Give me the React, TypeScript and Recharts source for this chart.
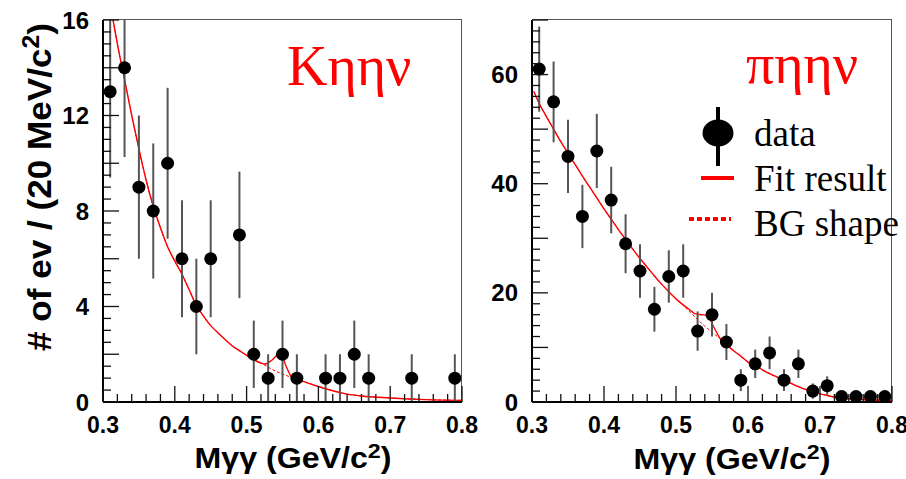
import React from 'react';
import { ComposedChart, Scatter, Line, XAxis, YAxis, ErrorBar, Legend } from 'recharts';

// ---- data: K eta eta nu panel ----
const kX = [0.31, 0.33, 0.35, 0.37, 0.39, 0.41, 0.43, 0.45, 0.49, 0.51, 0.53, 0.55, 0.57, 0.61, 0.63, 0.65, 0.67, 0.73, 0.79];
const kCounts = [13, 14, 9, 8, 10, 6, 4, 6, 7, 2, 1, 2, 1, 1, 1, 2, 1, 1, 1];
const kErr = [3.6, 3.74, 3.0, 2.83, 3.16, 2.45, 2.0, 2.45, 2.65, 1.41, 1.0, 1.41, 1.0, 1.0, 1.0, 1.41, 1.0, 1.0, 1.0];

const kFitX = [0.314, 0.32, 0.33, 0.34, 0.35, 0.36, 0.37, 0.38, 0.39, 0.40, 0.41, 0.42, 0.43, 0.44, 0.45, 0.46, 0.47, 0.48, 0.49, 0.50, 0.51, 0.52, 0.525, 0.535, 0.547, 0.555, 0.562, 0.57, 0.58, 0.60, 0.62, 0.64, 0.66, 0.70, 0.75, 0.80];
const kFitY = [16, 15.0, 13.5, 12.0, 10.6, 9.3, 8.2, 7.3, 6.5, 5.9, 5.35, 4.7, 4.05, 3.6, 3.2, 2.9, 2.62, 2.35, 2.15, 1.95, 1.77, 1.63, 1.59, 1.75, 2.05, 1.5, 1.08, 0.95, 0.85, 0.65, 0.47, 0.33, 0.25, 0.17, 0.1, 0.07];
const kBgX = [0.314, 0.32, 0.33, 0.34, 0.35, 0.36, 0.37, 0.38, 0.39, 0.40, 0.41, 0.42, 0.43, 0.44, 0.45, 0.46, 0.47, 0.48, 0.49, 0.50, 0.51, 0.52, 0.53, 0.54, 0.55, 0.56, 0.57, 0.58, 0.60, 0.62, 0.64, 0.66, 0.70, 0.75, 0.80];
const kBgY = [16, 15.0, 13.5, 12.0, 10.6, 9.3, 8.2, 7.3, 6.5, 5.9, 5.35, 4.7, 4.05, 3.6, 3.2, 2.9, 2.62, 2.35, 2.15, 1.95, 1.78, 1.63, 1.46, 1.3, 1.17, 1.06, 0.95, 0.85, 0.65, 0.47, 0.33, 0.25, 0.17, 0.1, 0.07];

// ---- data: pi eta eta nu panel ----
const pX = [0.31, 0.33, 0.35, 0.37, 0.39, 0.41, 0.43, 0.45, 0.47, 0.49, 0.51, 0.53, 0.55, 0.57, 0.59, 0.61, 0.63, 0.65, 0.67, 0.69, 0.71, 0.73, 0.75, 0.77, 0.79];
const pCounts = [61, 55, 45, 34, 46, 37, 29, 24, 17, 23, 24, 13, 16, 11, 4, 7, 9, 4, 7, 2, 3, 1, 1, 1, 1];
const pErr = [7.8, 7.4, 6.7, 5.8, 6.8, 6.1, 5.4, 4.9, 4.1, 4.8, 4.9, 3.6, 4.0, 3.3, 2.0, 2.6, 3.0, 2.0, 2.6, 1.4, 1.7, 1.0, 1.0, 1.0, 1.0];

const pFitX = [0.3025, 0.31, 0.32, 0.33, 0.34, 0.35, 0.36, 0.37, 0.38, 0.39, 0.40, 0.41, 0.42, 0.43, 0.44, 0.45, 0.46, 0.47, 0.48, 0.49, 0.50, 0.51, 0.52, 0.526, 0.535, 0.543, 0.553, 0.56, 0.566, 0.58, 0.59, 0.60, 0.612, 0.62, 0.63, 0.64, 0.65, 0.66, 0.67, 0.68, 0.69, 0.70, 0.71, 0.72, 0.73, 0.75, 0.80];
const pFitY = [56.9, 54.7, 52.3, 50.0, 47.7, 45.6, 43.5, 41.4, 39.4, 37.4, 35.4, 33.5, 31.6, 29.8, 28.0, 26.3, 24.7, 23.1, 21.6, 20.2, 18.9, 17.8, 16.8, 16.2, 16.0, 15.9, 13.6, 11.9, 11.0, 9.4, 8.4, 7.3, 6.6, 5.9, 5.2, 4.6, 4.0, 3.4, 2.8, 2.3, 1.9, 1.5, 1.2, 0.9, 0.7, 0.5, 0.3];
const pBgX = [0.3025, 0.31, 0.32, 0.33, 0.34, 0.35, 0.36, 0.37, 0.38, 0.39, 0.40, 0.41, 0.42, 0.43, 0.44, 0.45, 0.46, 0.47, 0.48, 0.49, 0.50, 0.51, 0.52, 0.53, 0.54, 0.55, 0.56, 0.566, 0.58, 0.59, 0.60, 0.612, 0.62, 0.63, 0.64, 0.65, 0.66, 0.67, 0.68, 0.69, 0.70, 0.71, 0.72, 0.73, 0.75, 0.80];
const pBgY = [56.9, 54.7, 52.3, 50.0, 47.7, 45.6, 43.5, 41.4, 39.4, 37.4, 35.4, 33.5, 31.6, 29.8, 28.0, 26.3, 24.7, 23.1, 21.6, 20.2, 18.9, 17.7, 16.4, 15.1, 13.9, 12.8, 11.7, 11.0, 9.4, 8.4, 7.3, 6.6, 5.9, 5.2, 4.6, 4.0, 3.4, 2.8, 2.3, 1.9, 1.5, 1.2, 0.9, 0.7, 0.5, 0.3];

// ---- tick values / labels ----
const xTicks = [0.3, 0.32, 0.34, 0.36, 0.38, 0.4, 0.42, 0.44, 0.46, 0.48, 0.5, 0.52, 0.54, 0.56, 0.58, 0.6, 0.62, 0.64, 0.66, 0.68, 0.7, 0.72, 0.74, 0.76, 0.78, 0.8];
const kYTicks = [0, 0.5, 1, 1.5, 2, 2.5, 3, 3.5, 4, 4.5, 5, 5.5, 6, 6.5, 7, 7.5, 8, 8.5, 9, 9.5, 10, 10.5, 11, 11.5, 12, 12.5, 13, 13.5, 14, 14.5, 15, 15.5, 16];
const pYTicks = [0, 2, 4, 6, 8, 10, 12, 14, 16, 18, 20, 22, 24, 26, 28, 30, 32, 34, 36, 38, 40, 42, 44, 46, 48, 50, 52, 54, 56, 58, 60, 62, 64, 66, 68, 70];
const kTitle = 'Kηην';
const pTitle = 'πηην';
const legendLabels = ['data', 'Fit result', 'BG shape'];

const toPts = (xs: number[], ys: number[]) => xs.map((x, i) => ({ x, y: ys[i] }));
// error bars are clipped at the top of the frame, as in the reference
const toData = (xs: number[], ys: number[], es: number[], yMax: number) =>
  xs.map((x, i) => ({ x, y: ys[i], err: [es[i], Math.min(es[i], yMax - ys[i])] }));

const kData = toData(kX, kCounts, kErr, 16);
const pData = toData(pX, pCounts, pErr, 70);
const kFit = toPts(kFitX, kFitY);
const kBg = toPts(kBgX, kBgY);
const pFit = toPts(pFitX, pFitY);
const pBg = toPts(pBgX, pBgY);

const SANS = '"Liberation Sans", Arial, Helvetica, sans-serif';
const SERIF = '"Liberation Serif", "Times New Roman", serif';
const RED = '#ff0000';
const CHART_H = 479;
const Y_AXIS_W = 60;
const X_AXIS_H = 30;

const XTick = (props: any) => {
  const { x, y, payload } = props;
  const v = payload.value as number;
  const major = Math.abs(v * 10 - Math.round(v * 10)) < 1e-6;
  return (
    <g>
      <line x1={x} x2={x} y1={y} y2={y - (major ? 16 : 8)} stroke="#111" strokeWidth={1.3} />
      {major && (
        <text x={x} y={y + 31} textAnchor="middle" fontFamily={SANS} fontWeight="bold" fontSize={23} fill="#000">
          {v.toFixed(1)}
        </text>
      )}
    </g>
  );
};

const makeYTick = (longEvery: number, labelEvery: number) => (props: any) => {
  const { x, y, payload } = props;
  const v = payload.value as number;
  const isLong = Math.abs(v / longEvery - Math.round(v / longEvery)) < 1e-6;
  const isLabel = Math.abs(v / labelEvery - Math.round(v / labelEvery)) < 1e-6;
  return (
    <g>
      <line x1={x} x2={x + (isLong ? 16 : 8)} y1={y} y2={y} stroke="#111" strokeWidth={1.3} />
      {isLabel && (
        <text x={x - 14} y={y} dy="0.36em" textAnchor="end" fontFamily={SANS} fontWeight="bold" fontSize={24} fill="#000">
          {v}
        </text>
      )}
    </g>
  );
};

const KYTick = makeYTick(2, 4);
const PYTick = makeYTick(10, 20);

const DataDot = (props: any) => {
  const { cx, cy } = props;
  if (cx == null || cy == null) return null;
  return <circle cx={cx} cy={cy} r={6.5} fill="#000" />;
};

const LegendBox = () => (
  <svg width={230} height={145} style={{ overflow: 'visible' }}>
    <line x1={38} x2={38} y1={7} y2={66} stroke="#000" strokeWidth={4} />
    <ellipse cx={38} cy={33} rx={15.5} ry={13.5} fill="#000" />
    <text x={74} y={46} fontFamily={SERIF} fontSize={37} fill="#000">{legendLabels[0]}</text>
    <line x1={21} x2={54} y1={78} y2={78} stroke={RED} strokeWidth={4} />
    <text x={74} y={91} fontFamily={SERIF} fontSize={37} fill="#000">{legendLabels[1]}</text>
    <line x1={9} x2={51} y1={119} y2={119} stroke={RED} strokeWidth={4} strokeDasharray="5 3" />
    <text x={74} y={136} fontFamily={SERIF} fontSize={37} fill="#000">{legendLabels[2]}</text>
  </svg>
);

interface PanelProps {
  width: number;
  margin: { top: number; right: number; bottom: number; left: number };
  data: any[];
  fit: any[];
  bg: any[];
  yMax: number;
  yTicks: number[];
  YTick: any;
  legend?: boolean;
  frameRight: number;
}

const Panel = ({ width, margin, data, fit, bg, yMax, yTicks, YTick, legend, frameRight }: PanelProps) => {
  // plot-area frame (top and right edges), derived from the same layout values as the chart
  const plotLeft = margin.left + Y_AXIS_W;
  const plotTop = margin.top;
  const plotBottom = CHART_H - margin.bottom - X_AXIS_H;
  return (
    <div style={{ position: 'relative', width, height: CHART_H }}>
      <div
        style={{
          position: 'absolute',
          left: plotLeft,
          top: plotTop - 0.8,
          width: frameRight - plotLeft - 0.8,
          height: plotBottom - plotTop,
          borderTop: '1.6px solid #555',
          borderRight: '1.6px solid #555',
          pointerEvents: 'none',
        }}
      />
      <ComposedChart width={width} height={CHART_H} margin={margin} style={{ position: 'absolute', left: 0, top: 0 }}>
        <XAxis
          dataKey="x"
          type="number"
          domain={[0.3, 0.8]}
          ticks={xTicks}
          interval={0}
          tickSize={0}
          tickMargin={0}
          tickLine={false}
          tick={<XTick />}
          axisLine={{ stroke: '#000', strokeWidth: 2 }}
          height={X_AXIS_H}
          allowDataOverflow
        />
        <YAxis
          type="number"
          domain={[0, yMax]}
          ticks={yTicks}
          interval={0}
          tickSize={0}
          tickMargin={0}
          tickLine={false}
          tick={<YTick />}
          axisLine={{ stroke: '#000', strokeWidth: 2 }}
          width={Y_AXIS_W}
          allowDataOverflow
        />
        <Line data={bg} dataKey="y" type="monotone" stroke={RED} strokeWidth={1} strokeDasharray="3 2" dot={false} activeDot={false} isAnimationActive={false} />
        <Line data={fit} dataKey="y" type="monotone" stroke={RED} strokeWidth={1.4} dot={false} activeDot={false} isAnimationActive={false} />
        <Scatter data={data} dataKey="y" shape={<DataDot />} isAnimationActive={false}>
          <ErrorBar dataKey="err" direction="y" width={0} stroke="#555" strokeWidth={2} isAnimationActive={false} />
        </Scatter>
        {legend && (
          <Legend
            layout="vertical"
            align="center"
            verticalAlign="middle"
            content={<LegendBox />}
            wrapperStyle={{ left: 210, top: 100, width: 230, height: 145 }}
          />
        )}
      </ComposedChart>
    </div>
  );
};

export default function App() {
  const kMargin = { top: 20, right: 28, bottom: 47, left: 43 };
  const pMargin = { top: 20, right: 34, bottom: 47, left: 2 };
  return (
    <div style={{ position: 'absolute', left: 0, top: 0, width: 906, height: 479, background: '#fff', overflow: 'hidden' }}>
      <div style={{ position: 'absolute', left: 0, top: 0 }}>
        <Panel
          width={490}
          margin={kMargin}
          frameRight={490 - kMargin.right}
          data={kData}
          fit={kFit}
          bg={kBg}
          yMax={16}
          yTicks={kYTicks}
          YTick={KYTick}
        />
      </div>
      <div style={{ position: 'absolute', left: 470, top: 0 }}>
        <Panel
          width={456}
          margin={pMargin}
          frameRight={456 - pMargin.right}
          data={pData}
          fit={pFit}
          bg={pBg}
          yMax={70}
          yTicks={pYTicks}
          YTick={PYTick}
          legend
        />
      </div>
      <svg width={906} height={479} style={{ position: 'absolute', left: 0, top: 0, pointerEvents: 'none' }}>
        <text x={287} y={85} fontFamily={SERIF} fontSize={56} fill={RED}>{kTitle}</text>
        <text x={746} y={83} fontFamily={SERIF} fontSize={56} fill={RED}>{pTitle}</text>
        <g transform="translate(51,187) rotate(-90)">
          <text x={0} y={0} textAnchor="middle" fontFamily={SANS} fontWeight="bold" fontSize={34} fill="#000" textLength={328} lengthAdjust="spacingAndGlyphs">
            # of ev / (20 MeV/c<tspan dy={-12} fontSize={24}>2</tspan><tspan dy={12}>)</tspan>
          </text>
        </g>
        <text x={293} y={468} textAnchor="middle" fontFamily={SANS} fontWeight="bold" fontSize={29} fill="#000" textLength={197} lengthAdjust="spacingAndGlyphs">
          Mγγ (GeV/c<tspan dy={-10} fontSize={21}>2</tspan><tspan dy={10}>)</tspan>
        </text>
        <text x={732} y={469} textAnchor="middle" fontFamily={SANS} fontWeight="bold" fontSize={29} fill="#000" textLength={197} lengthAdjust="spacingAndGlyphs">
          Mγγ (GeV/c<tspan dy={-10} fontSize={21}>2</tspan><tspan dy={10}>)</tspan>
        </text>
      </svg>
    </div>
  );
}
